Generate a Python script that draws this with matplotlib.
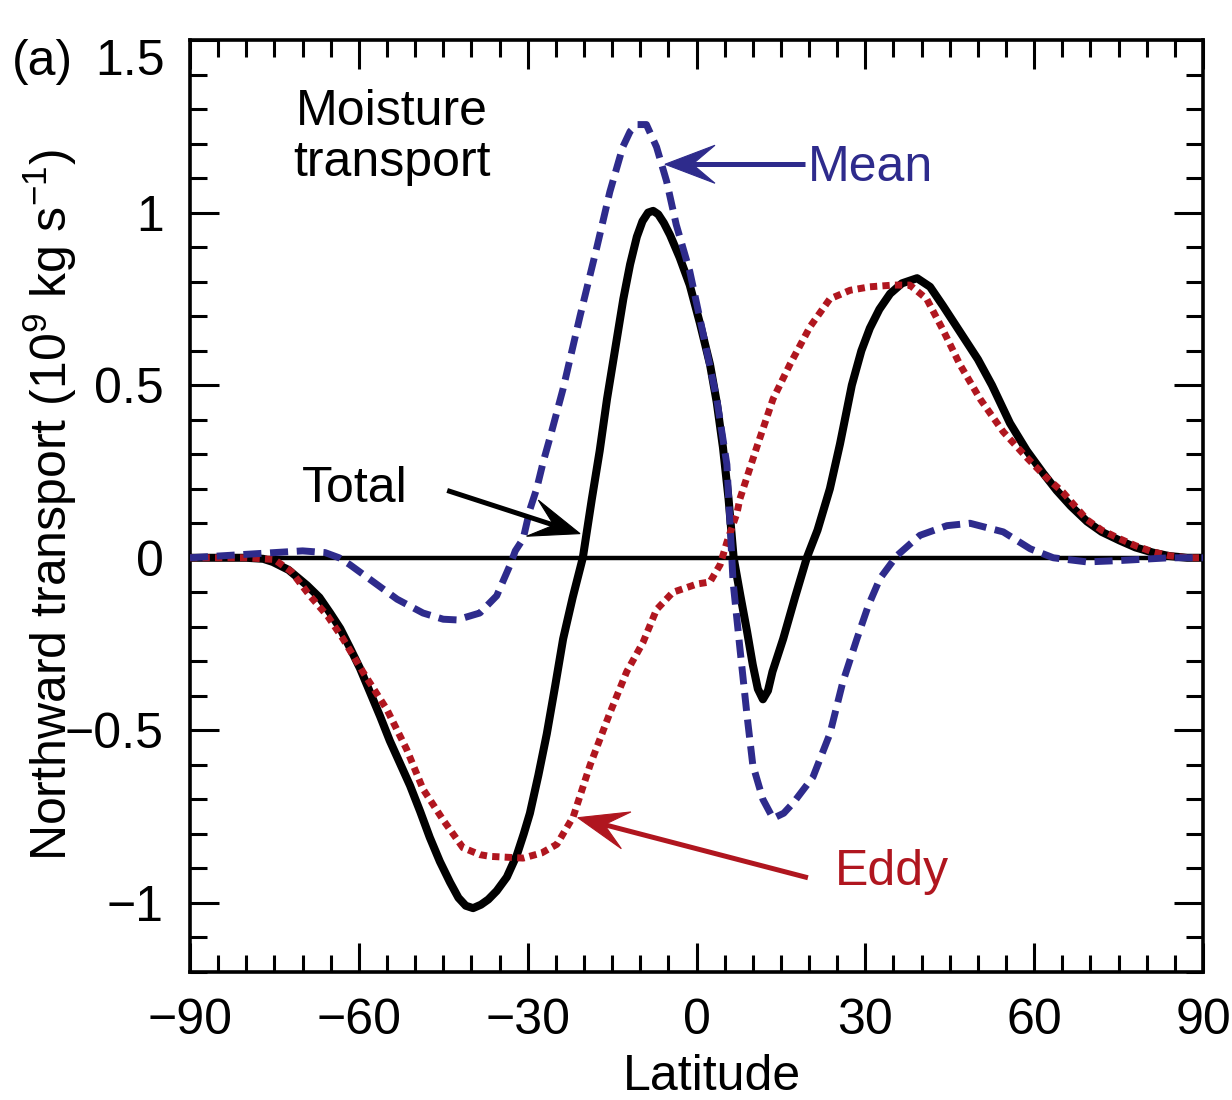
import numpy as np
import matplotlib
matplotlib.use("Agg")
import matplotlib.pyplot as plt
from matplotlib.patches import Polygon
from matplotlib.ticker import MultipleLocator, FixedLocator

plt.rcParams["font.family"] = ["Liberation Sans", "DejaVu Sans"]
plt.rcParams["mathtext.fontset"] = "custom"
plt.rcParams["mathtext.rm"] = "Liberation Sans"
plt.rcParams["mathtext.default"] = "regular"

# zonal-mean northward moisture transport (10^9 kg/s)
lat_total = [-90, -80, -77, -75.3, -72.5, -69.2, -67, -65.1, -63.3, -61.6, -59.8,
             -58, -56.2, -54.5, -52.7, -50.9, -49.1, -47.4, -45.6, -43.8, -42.3,
             -41, -39.7, -38.3, -37, -35.5, -33.7, -31.9, -30.7, -29.6, -28.1,
             -26.6, -25.1, -23.7, -22, -20.2, -18.6, -17.2, -15.9, -14.4, -13.0,
             -11.8, -10.6, -9.6, -8.6, -7.7, -6.8, -5.8, -4.7, -3, -1.2, 0.6, 2.4,
             3.6, 4.7, 5.7, 6.6, 7.8, 9.0, 10.0, 10.9, 11.8, 12.7, 13.5, 15.4,
             17.5, 19.6, 21.5, 23.7, 25.5, 27.6, 29.3, 30.8, 32.5, 34.4, 36.5,
             39.2, 41.5, 43.8, 46, 48, 50, 52.5, 55.7, 58.7, 61.6, 64, 66.5,
             69.4, 72, 75.2, 78, 81.1, 84, 87.2, 90]
total = [0, 0, -0.003, -0.012, -0.035, -0.08, -0.115, -0.16, -0.205, -0.26, -0.32,
         -0.39, -0.46, -0.53, -0.595, -0.66, -0.735, -0.81, -0.88, -0.94, -0.985,
         -1.008, -1.015, -1.005, -0.99, -0.965, -0.925, -0.86, -0.8, -0.74, -0.63,
         -0.51, -0.37, -0.235, -0.115, 0, 0.17, 0.31, 0.46, 0.61, 0.75,
         0.85, 0.93, 0.975, 1.0, 1.005, 0.995, 0.97, 0.935, 0.87, 0.79, 0.68, 0.56,
         0.45, 0.32, 0.17, 0.0, -0.11, -0.215, -0.31, -0.38, -0.41, -0.385, -0.33, -0.235,
         -0.115, 0, 0.08, 0.2, 0.33, 0.5, 0.6, 0.665, 0.72, 0.765, 0.795,
         0.81, 0.785, 0.73, 0.675, 0.625, 0.575, 0.5, 0.39, 0.31, 0.245, 0.195, 0.15,
         0.105, 0.075, 0.05, 0.03, 0.015, 0.005, 0, 0]

lat_eddy = [-90, -80, -75, -72, -68.7, -65.5, -62.8, -59.3, -55.0, -51.5, -48.6,
            -45.0, -41.5, -38.5, -36.7, -30.8, -27.5, -24.8, -21.9, -18.9, -15.4,
            -12.4, -9.5, -7.1, -4.2, 0.1, 2.4, 4.2, 5.4, 7.2, 7.7, 10.7, 13.6,
            16.6, 20.2, 23.7, 27.3, 30.8, 35.0, 37.9, 40.9, 43.8, 46.8, 50.4,
            54.5, 58.7, 62, 65.1, 69.4, 72, 75.2, 78, 81.1, 84, 87.2, 90]
eddy = [0, 0, -0.005, -0.04, -0.11, -0.17, -0.235, -0.33, -0.44, -0.555, -0.67,
        -0.76, -0.84, -0.86, -0.865, -0.87, -0.855, -0.83, -0.75, -0.60, -0.45,
        -0.33, -0.245, -0.15, -0.10, -0.076, -0.07, -0.02, 0.045, 0.13, 0.17,
        0.32, 0.46, 0.56, 0.67, 0.75, 0.775, 0.785, 0.79, 0.79, 0.75, 0.66,
        0.56, 0.46, 0.365, 0.29, 0.235, 0.19, 0.11, 0.08, 0.055, 0.035, 0.017,
        0.006, 0, 0]

lat_mean = [-90, -85, -80, -75, -70, -66, -63.5, -61.6, -57.4, -53.2, -48.6, -45,
            -42.6, -38.5, -35.5, -33.1, -32.2, -30.8, -29.6, -28.4, -27.2, -26.0,
            -23.7, -20.7, -17.7, -15.4, -13.1, -11.8, -10.6, -8.9, -7.1, -5.3, -3.6,
            -1.2, 1.1, 3.6, 5.4, 6.5, 7.7, 9.0, 10.0, 11.8, 13.6, 15.5, 17.2, 20.7,
            23.7, 26.0, 28.5, 30.5, 32.6, 35.6, 39.7, 44.5, 48.6, 54.5, 59.3, 63.4,
            69.4, 75.2, 84, 90]
mean = [0, 0.005, 0.01, 0.015, 0.02, 0.015, 0, -0.02, -0.07, -0.12, -0.16, -0.178,
        -0.18, -0.16, -0.11, -0.02, 0.02, 0.055, 0.14, 0.2, 0.28, 0.35,
        0.49, 0.70, 0.90, 1.06, 1.19, 1.235, 1.255, 1.255, 1.19, 1.09, 0.965,
        0.83, 0.655, 0.46, 0.27, -0.07, -0.26, -0.46, -0.60, -0.70, -0.755,
        -0.74, -0.71, -0.635, -0.51, -0.36, -0.235, -0.14, -0.06, 0.006, 0.065,
        0.093, 0.10, 0.075, 0.026, 0.0, -0.012, -0.008, 0, 0]

x_ticks = [-90, -60, -30, 0, 30, 60, 90]
x_labels = ["\u221290", "\u221260", "\u221230", "0", "30", "60", "90"]
y_ticks = [-1, -0.5, 0, 0.5, 1]
y_labels = ["\u22121", "\u22120.5", "0", "0.5", "1"]

BLUE = "#2e2b8c"
RED = "#b0161f"
FS = 36

fig = plt.figure(figsize=(12.32, 11), dpi=100)
ax = fig.add_axes([190 / 1232, 128 / 1100, 1013 / 1232, 932 / 1100])

ax.axhline(0, color="black", lw=3.2, zorder=2)
ax.plot(lat_total, total, color="black", lw=5.8, solid_joinstyle="round", zorder=3)
ax.plot(lat_eddy, eddy, color=RED, lw=5.0, dashes=(1.05, 0.75), dash_capstyle="butt", zorder=4)
ax.plot(lat_mean, mean, color=BLUE, lw=5.0, dashes=(2.6, 1.25), dash_capstyle="butt", zorder=5)

ax.set_xlim(-90, 90)
ax.set_ylim(-1.2, 1.5)
ax.xaxis.set_major_locator(FixedLocator(x_ticks))
ax.set_xticklabels(x_labels)
ax.xaxis.set_minor_locator(MultipleLocator(5))
ax.yaxis.set_major_locator(FixedLocator(y_ticks + [1.5]))
ax.set_yticklabels(y_labels + [""])
ax.yaxis.set_minor_locator(MultipleLocator(0.1))
ax.tick_params(which="both", direction="in", top=True, right=True, width=2.2,
               labelsize=FS, pad=19)
ax.tick_params(which="major", length=21)
ax.tick_params(which="minor", length=12.5)
for s in ax.spines.values():
    s.set_linewidth(2.6)


def stealth_arrow(start, end, color, lw=3.6, head_len=50, head_w=19, notch=0.55):
    # arrow with a swept-back head, built in display pixels
    p0 = ax.transData.transform(start)
    p1 = ax.transData.transform(end)
    d = (p1 - p0) / np.hypot(*(p1 - p0))
    n = np.array([-d[1], d[0]])
    base = p1 - d * head_len
    neck = p1 - d * head_len * notch
    head = [p1, base + n * head_w, neck, base - n * head_w]
    inv = ax.transData.inverted()
    neck_data = inv.transform(neck)
    ax.plot([start[0], neck_data[0]], [start[1], neck_data[1]], color=color,
            lw=lw, solid_capstyle="butt", zorder=6)
    ax.add_patch(Polygon(inv.transform(head), closed=True, facecolor=color,
                         edgecolor=color, lw=0.8, zorder=6))


ax.text(-54.1, 1.218, "Moisture\ntransport", ha="center", va="center",
        fontsize=FS, linespacing=1.15)
ax.text(-60.7, 0.20, "Total", ha="center", va="center", fontsize=FS)
ax.text(19.8, 1.13, "Mean", ha="left", va="center", fontsize=FS, color=BLUE)
ax.text(24.6, -0.91, "Eddy", ha="left", va="center", fontsize=FS, color=RED)

stealth_arrow((19.3, 1.14), (-5.6, 1.14), BLUE)
stealth_arrow((-44.3, 0.195), (-20.7, 0.07), "black")
stealth_arrow((19.8, -0.927), (-21.1, -0.753), RED)

fig.text(12 / 1232, 1 - 62 / 1100, "(a)", ha="left", va="center", fontsize=FS)
fig.text(165 / 1232, 1 - 62 / 1100, "1.5", ha="right", va="center", fontsize=FS)
fig.text(50 / 1232, 1 - 505 / 1100,
         "Northward transport (10$^9$ kg s$^{-1}$)",
         rotation=90, ha="center", va="center", fontsize=FS)
fig.text(712 / 1232, 1 - 1090 / 1100, "Latitude", ha="center", va="baseline",
         fontsize=FS)

fig.savefig("out.png", dpi=100)
